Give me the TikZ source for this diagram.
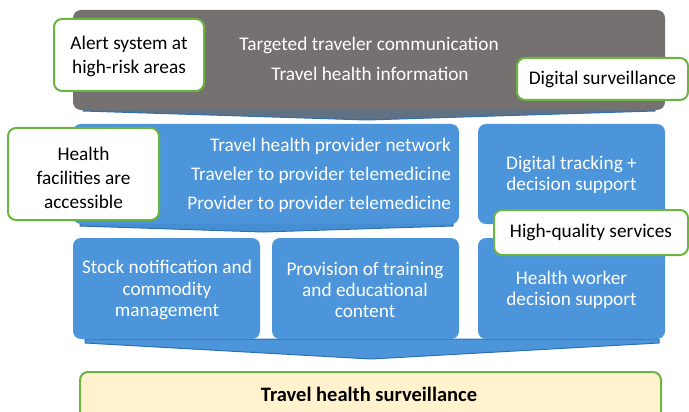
\documentclass[tikz,border=0pt]{standalone}
\usepackage{fontspec}
\setmainfont{Carlito}
\definecolor{boxblue}{RGB}{76,149,218}
\definecolor{edgeblue}{RGB}{46,112,176}
\definecolor{boxgrey}{RGB}{118,113,113}
\definecolor{callgreen}{RGB}{108,180,64}
\definecolor{survyellow}{RGB}{255,242,204}
\tikzset{
  basebox/.style={rectangle, rounded corners=8pt, inner sep=0pt, outer sep=0pt},
  bluebox/.style={basebox, fill=boxblue, text=white, align=center},
  greybox/.style={basebox, fill=boxgrey, text=white, align=center},
  callout/.style={basebox, fill=white, draw=callgreen, line width=2pt, text=black, align=center},
  survbox/.style={basebox, fill=survyellow, draw=callgreen, line width=2pt, text=black, align=center},
  label/.style={inner sep=0pt, outer sep=0pt, align=center},
  chevron/.style={fill=boxblue, draw=edgeblue, line width=1pt, line join=round},
}
\begin{document}
\begin{tikzpicture}[x=1pt, y=-1pt, font=\fontsize{19.3}{21.3}\selectfont]
\useasboundingbox (0,0) rectangle (689,412);
% top grey layer
\draw[chevron, fill=boxgrey!70!edgeblue] (83,108) -- (655,108) -- (655,111) -- (367,120) -- (83,111) -- cycle;
\node[greybox, minimum width=592pt, minimum height=100pt] (grey) at (369,60) {};
\node[label, text=white] (tgt) at (369,45) {Targeted traveler communication};
\node[label, text=white] (thi) at (370,74) {Travel health information};
% middle layer
\draw[chevron, fill=boxblue!80!edgeblue] (80,222) -- (453,222) -- (453,226) -- (263,232) -- (80,226) -- cycle;
\node[bluebox, minimum width=386pt, minimum height=100pt] (midl) at (266,174) {};
\node[label, text=white, anchor=east] (m1) at (451,146) {Travel health provider network};
\node[label, text=white, anchor=east] (m2) at (451,175) {Traveler to provider telemedicine};
\node[label, text=white, anchor=east] (m3) at (451,204) {Provider to provider telemedicine};
\node[bluebox, minimum width=187pt, minimum height=100pt] (midr) at (571.5,174) {};
\node[label, text=white] (dt) at (571.5,175) {Digital tracking +\\decision support};
% bottom layer
\draw[chevron] (85,339) -- (659,339) -- (659,343) -- (371,359) -- (85,343) -- cycle;
\node[bluebox, minimum width=187pt, minimum height=101pt] (b1) at (166.5,288.5) {};
\node[label, text=white] (t1) at (167,290) {Stock notification and\\commodity\\management};
\node[bluebox, minimum width=187pt, minimum height=101pt] (b2) at (365.5,288.5) {};
\node[label, text=white] (t2) at (365,290) {Provision of training\\and educational\\content};
\node[bluebox, minimum width=187pt, minimum height=101pt] (b3) at (571.5,288.5) {};
\node[label, text=white] (t3) at (571.5,290) {Health worker\\decision support};
% foundation
\node[survbox, minimum width=581pt, minimum height=52pt] (surv) at (370.5,398) {};
\node[label, font=\fontsize{20.5}{23}\selectfont\bfseries] (survt) at (369,394) {Travel health surveillance};
% callouts
\node[callout, minimum width=150pt, minimum height=72pt] (alert) at (129,55) {};
\node[label, font=\fontsize{19.3}{24}\selectfont] (alertt) at (129,56) {Alert system at\\high-risk areas};
\node[callout, minimum width=171pt, minimum height=42pt] (dsurv) at (602.5,79) {Digital surveillance};
\node[callout, minimum width=151pt, minimum height=92pt] (hfac) at (83.5,174) {};
\node[label, font=\fontsize{19.3}{24}\selectfont] (hfact) at (83.5,178) {Health\\facilities are\\accessible};
\node[callout, minimum width=194pt, minimum height=45pt] (hq) at (591,232.5) {High-quality services};
\end{tikzpicture}
\end{document}
